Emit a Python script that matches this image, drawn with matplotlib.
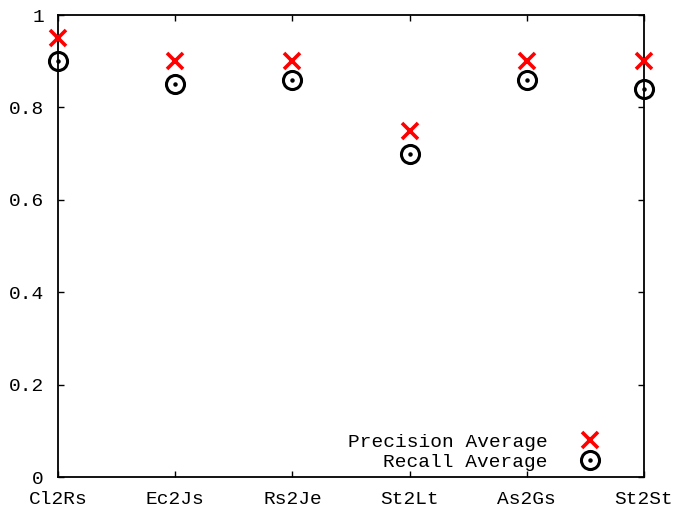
import matplotlib
matplotlib.use('Agg')
import matplotlib.pyplot as plt
import numpy as np

pairs = ['Cl2Rs', 'Ec2Js', 'Rs2Je', 'St2Lt', 'As2Gs', 'St2St']
precision_avg = [0.95, 0.90, 0.90, 0.75, 0.90, 0.90]
recall_avg = [0.90, 0.85, 0.86, 0.70, 0.86, 0.84]
y_ticks = [0, 0.2, 0.4, 0.6, 0.8, 1]
y_labels = ['0', '0.2', '0.4', '0.6', '0.8', '1']

plt.rcParams['font.family'] = ['Liberation Mono', 'DejaVu Sans Mono']

fig = plt.figure(figsize=(6.73, 5.12), dpi=100)
ax = fig.add_axes([58/673, 1-477/512, (644-58)/673, (477-15)/512])

x = np.arange(len(pairs))

p1, = ax.plot(x, precision_avg, linestyle='none', marker='x', color='red',
              markersize=11, markeredgewidth=2.6, clip_on=False, zorder=3)
r1, = ax.plot(x, recall_avg, linestyle='none', marker='o', markerfacecolor='none',
              markeredgecolor='black', markersize=13, markeredgewidth=2.2,
              clip_on=False, zorder=3)
r2, = ax.plot(x, recall_avg, linestyle='none', marker='o', color='black',
              markersize=2.2, clip_on=False, zorder=3)

ax.set_xlim(0, len(pairs) - 1)
ax.set_ylim(0, 1)
ax.set_xticks(x)
ax.set_xticklabels(pairs, fontsize=14)
ax.set_yticks(y_ticks)
ax.set_yticklabels(y_labels, fontsize=14)

ax.tick_params(direction='in', length=4, width=1, top=True, right=True)
ax.tick_params(axis='x', pad=10)
ax.tick_params(axis='y', pad=10)
for s in ax.spines.values():
    s.set_linewidth(1.3)

ax.legend([p1, (r1, r2)], ['Precision Average', 'Recall Average'],
          loc='lower right', frameon=False, markerfirst=False, fontsize=14,
          handlelength=1.4, handletextpad=1.5, labelspacing=0.15,
          borderaxespad=0.0, bbox_to_anchor=(0.945, -0.004))

fig.savefig('out.png', dpi=100)
